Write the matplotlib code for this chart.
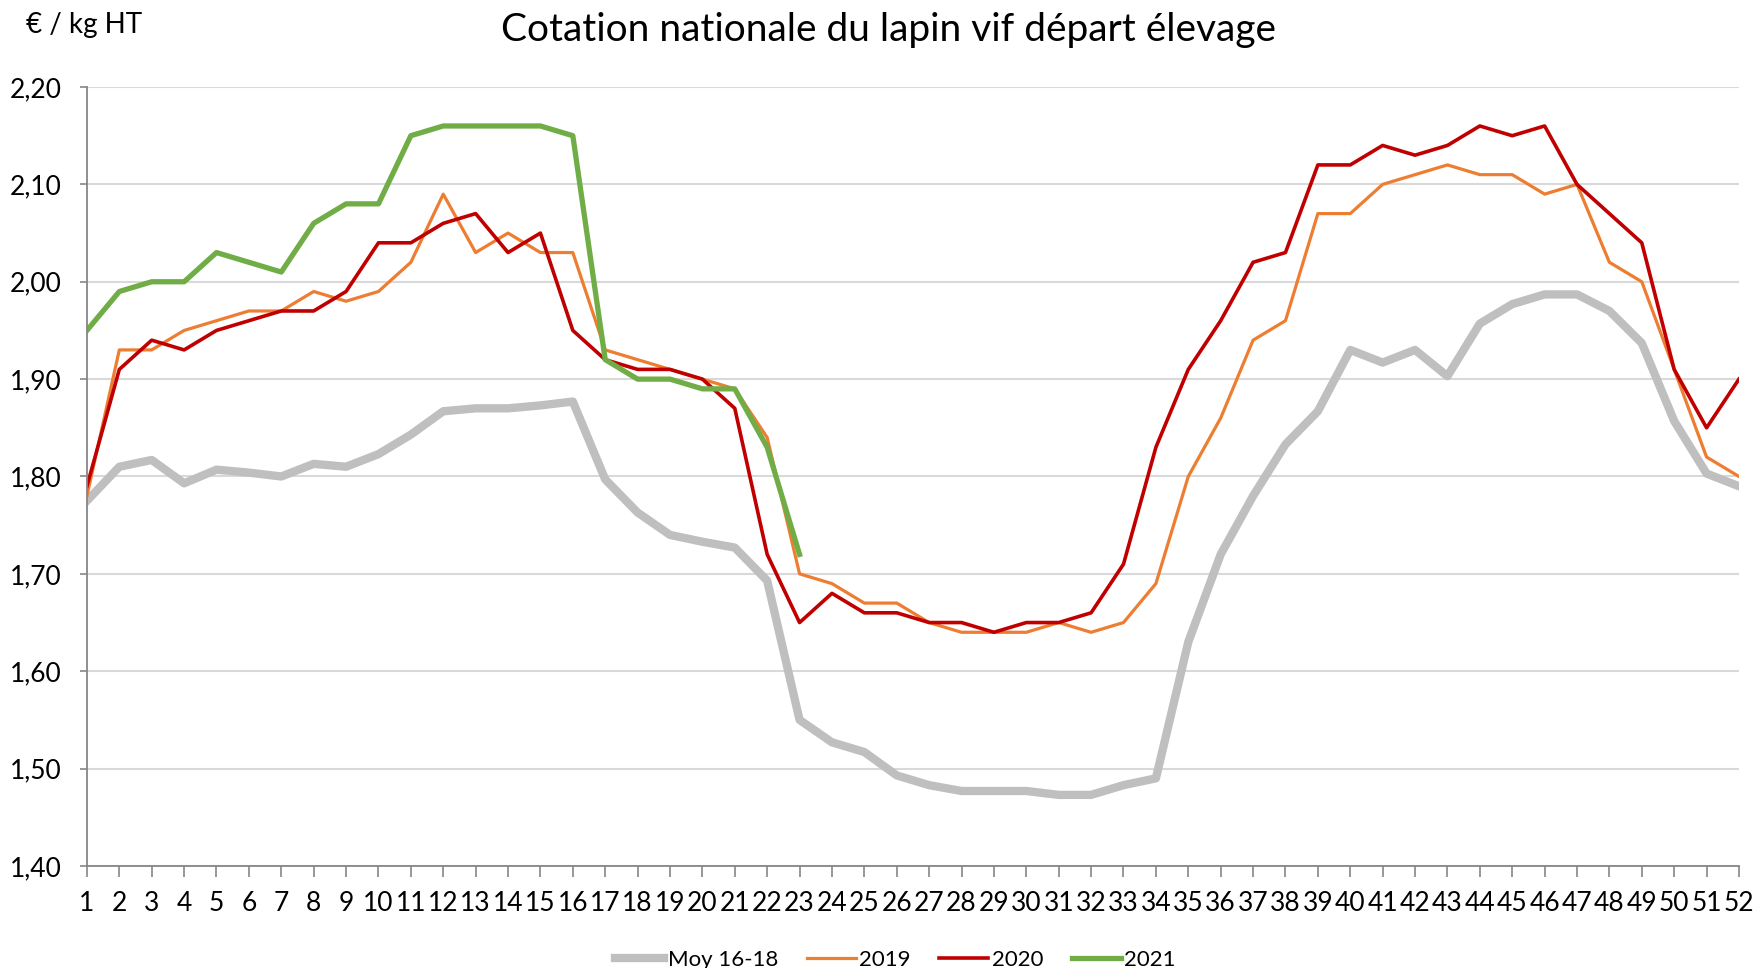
import matplotlib
matplotlib.use("Agg")
from matplotlib import pyplot as plt
from matplotlib.ticker import FuncFormatter

plt.rcParams["font.family"] = ["Lato", "DejaVu Sans"]

weeks = list(range(1, 53))

moy_16_18 = [1.775, 1.81, 1.817, 1.793, 1.807, 1.804, 1.80, 1.813, 1.81, 1.823,
             1.843, 1.867, 1.87, 1.87, 1.873, 1.877, 1.797, 1.763, 1.74, 1.733,
             1.727, 1.693, 1.55, 1.527, 1.517, 1.493, 1.483, 1.477, 1.477, 1.477,
             1.473, 1.473, 1.483, 1.49, 1.63, 1.72, 1.78, 1.833, 1.867, 1.93,
             1.917, 1.93, 1.903, 1.957, 1.977, 1.987, 1.987, 1.97, 1.937, 1.857,
             1.803, 1.79]

y2019 = [1.78, 1.93, 1.93, 1.95, 1.96, 1.97, 1.97, 1.99, 1.98, 1.99,
         2.02, 2.09, 2.03, 2.05, 2.03, 2.03, 1.93, 1.92, 1.91, 1.90,
         1.89, 1.84, 1.70, 1.69, 1.67, 1.67, 1.65, 1.64, 1.64, 1.64,
         1.65, 1.64, 1.65, 1.69, 1.80, 1.86, 1.94, 1.96, 2.07, 2.07,
         2.10, 2.11, 2.12, 2.11, 2.11, 2.09, 2.10, 2.02, 2.00, 1.91,
         1.82, 1.80]

y2020 = [1.79, 1.91, 1.94, 1.93, 1.95, 1.96, 1.97, 1.97, 1.99, 2.04,
         2.04, 2.06, 2.07, 2.03, 2.05, 1.95, 1.92, 1.91, 1.91, 1.90,
         1.87, 1.72, 1.65, 1.68, 1.66, 1.66, 1.65, 1.65, 1.64, 1.65,
         1.65, 1.66, 1.71, 1.83, 1.91, 1.96, 2.02, 2.03, 2.12, 2.12,
         2.14, 2.13, 2.14, 2.16, 2.15, 2.16, 2.10, 2.07, 2.04, 1.91,
         1.85, 1.90]

# 2021 only known up to week 23
y2021 = [1.95, 1.99, 2.00, 2.00, 2.03, 2.02, 2.01, 2.06, 2.08, 2.08,
         2.15, 2.16, 2.16, 2.16, 2.16, 2.15, 1.92, 1.90, 1.90, 1.89,
         1.89, 1.83, 1.72]

y_ticks = [1.40, 1.50, 1.60, 1.70, 1.80, 1.90, 2.00, 2.10, 2.20]

fig = plt.figure(figsize=(17.56, 9.68), dpi=100)
ax = fig.add_axes([0.0495, 0.1054, 0.9408, 0.8047])

ax.plot(weeks, moy_16_18, color="#BFBFBF", lw=6, label="Moy 16-18", solid_joinstyle="round")
ax.plot(weeks, y2019, color="#ED7D31", lw=2.3, label="2019")
ax.plot(weeks, y2020, color="#C00000", lw=2.6, label="2020")
ax.plot(weeks[:len(y2021)], y2021, color="#70AD47", lw=3.8, label="2021")

ax.set_xlim(1, 52)
ax.set_ylim(1.40, 2.20)
ax.set_xticks(weeks)
ax.set_yticks(y_ticks)
ax.yaxis.set_major_formatter(FuncFormatter(lambda v, p: f"{v:.2f}".replace(".", ",")))
ax.grid(axis="y", color="#D9D9D9", lw=1.5)
ax.set_axisbelow(True)

for s in ["top", "right"]:
    ax.spines[s].set_visible(False)
for s in ["left", "bottom"]:
    ax.spines[s].set_color("#868686")
    ax.spines[s].set_linewidth(1.3)

ax.tick_params(axis="x", length=8, width=1.2, color="#868686", labelsize=19, pad=10)
ax.tick_params(axis="y", length=5, width=1.2, color="#868686", labelsize=19, pad=13)

fig.text(0.506, 0.969, "Cotation nationale du lapin vif départ élevage",
         ha="center", va="center", fontsize=28)
fig.text(0.015, 0.974, "€ / kg HT", ha="left", va="center", fontsize=20)

fig.legend(loc="center", bbox_to_anchor=(0.51, 0.008), ncol=4, frameon=False,
           fontsize=16, handlelength=2.2, handletextpad=0.15, columnspacing=1.3)

fig.savefig("out.png", dpi=100)
